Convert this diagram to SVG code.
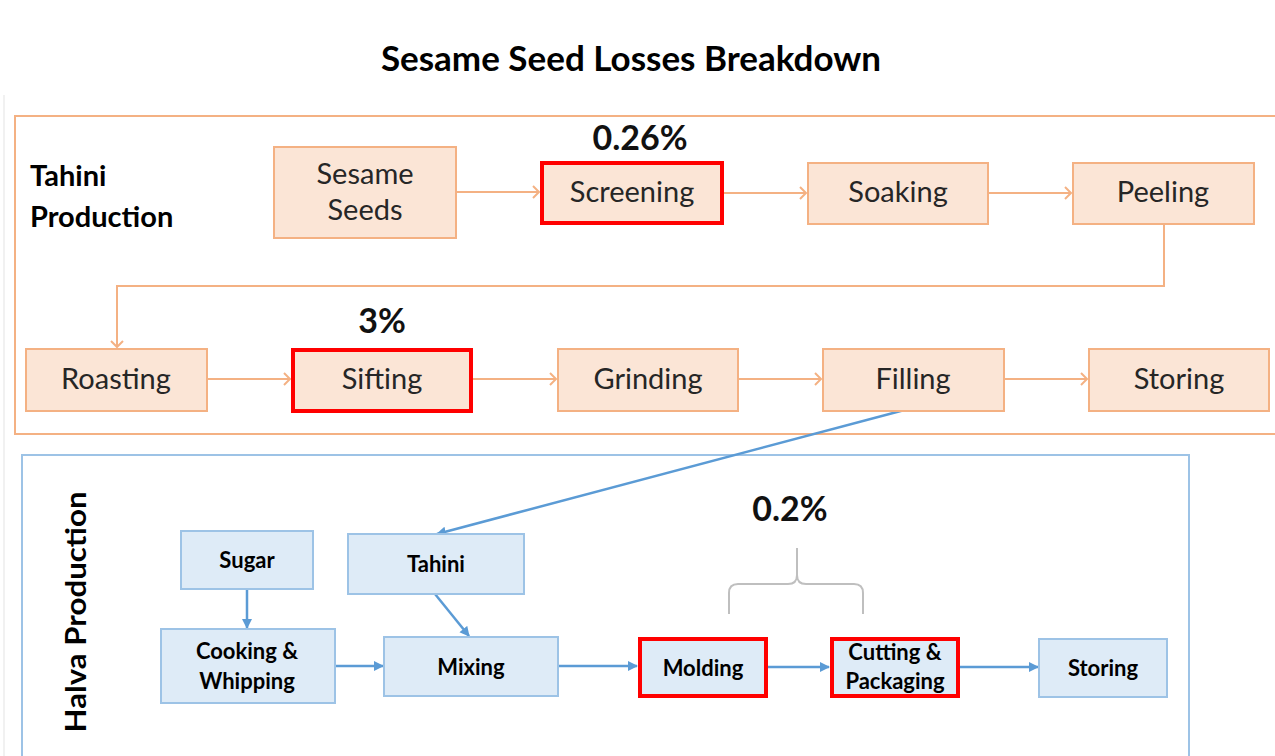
<svg xmlns="http://www.w3.org/2000/svg" width="1275" height="756" viewBox="0 0 1275 756">
  <style>
    .title { font: bold 35px Lato, "Liberation Sans", sans-serif; fill: #000; }
    .sect { font: bold 29px Lato, "Liberation Sans", sans-serif; fill: #000; }
    .pct { font: bold 34px Lato, "Liberation Sans", sans-serif; fill: #111; }
    .onode { fill: #FBE5D6; stroke: #F4B183; stroke-width: 2; }
    .bnode { fill: #DEEBF7; stroke: #9DC3E6; stroke-width: 2; }
    .loss { stroke: #FF0000; stroke-width: 4; }
    .otext { font: 29px Lato, "Liberation Sans", sans-serif; fill: #262626; text-anchor: middle; }
    .btext { font: bold 22px Lato, "Liberation Sans", sans-serif; fill: #000; text-anchor: middle; }
    .oarrow { fill: none; stroke: #F4B183; stroke-width: 2; marker-end: url(#chevO); }
    .barrow { fill: none; stroke: #5B9BD5; stroke-width: 2.5; marker-end: url(#triB); }
  </style>
  <defs>
    <marker id="chevO" markerUnits="userSpaceOnUse" markerWidth="12" markerHeight="14" refX="8" refY="7" orient="auto">
      <path d="M2,1 L8,7 L2,13" fill="none" stroke="#F4B183" stroke-width="2"/>
    </marker>
    <marker id="triB" markerUnits="userSpaceOnUse" markerWidth="12" markerHeight="12" refX="9" refY="6" orient="auto">
      <path d="M0,1 L10,6 L0,11 Z" fill="#5B9BD5"/>
    </marker>
  </defs>

  <rect width="1275" height="756" fill="#fff"/>
  <line x1="4" y1="95" x2="4" y2="756" stroke="#ececec" stroke-width="1.5"/>

  <text class="title" x="631" y="71" text-anchor="middle">Sesame Seed Losses Breakdown</text>

  <!-- section frames -->
  <rect id="tahini-frame" x="15" y="116" width="1275" height="318" fill="none" stroke="#F4B183" stroke-width="2"/>
  <rect id="halva-frame" x="22" y="455" width="1167" height="320" fill="none" stroke="#9DC3E6" stroke-width="2"/>

  <text class="sect" x="30" y="186">Tahini</text>
  <text class="sect" x="30" y="227">Production</text>
  <text class="sect" transform="translate(86,612) rotate(-90)" text-anchor="middle" font-size="30" textLength="241" lengthAdjust="spacingAndGlyphs">Halva Production</text>

  <!-- connectors -->
  <g id="connectors">
    <path class="oarrow" d="M456,192 H539"/>
    <path class="oarrow" d="M723,193 H806"/>
    <path class="oarrow" d="M988,193 H1071"/>
    <path class="oarrow" d="M1164,224 V286 H117 V347"/>
    <path class="oarrow" d="M207,379 H290"/>
    <path class="oarrow" d="M473,379 H556"/>
    <path class="oarrow" d="M738,379 H821"/>
    <path class="oarrow" d="M1004,379 H1087"/>
    <path class="barrow" d="M912,408 L437,534"/>
    <path class="barrow" d="M247,589 V628"/>
    <path class="barrow" d="M435,594 L469,636"/>
    <path class="barrow" d="M335,666 H383"/>
    <path class="barrow" d="M558,666 H637"/>
    <path class="barrow" d="M768,667 H829"/>
    <path class="barrow" d="M960,667 H1038"/>
  </g>

  <!-- tahini production steps -->
  <g id="sesame-seeds">
    <rect class="onode" x="274" y="147" width="182" height="91"/>
    <text class="otext" x="365" y="184">Sesame</text>
    <text class="otext" x="365" y="220">Seeds</text>
  </g>
  <g id="screening">
    <rect class="onode loss" x="542" y="163" width="180" height="60"/>
    <text class="otext" x="632" y="202">Screening</text>
    <text class="pct" x="640" y="150" text-anchor="middle">0.26%</text>
  </g>
  <g id="soaking">
    <rect class="onode" x="808" y="163" width="180" height="61"/>
    <text class="otext" x="898" y="202">Soaking</text>
  </g>
  <g id="peeling">
    <rect class="onode" x="1073" y="163" width="181" height="61"/>
    <text class="otext" x="1163" y="202">Peeling</text>
  </g>
  <g id="roasting">
    <rect class="onode" x="26" y="349" width="181" height="62"/>
    <text class="otext" x="116" y="389">Roasting</text>
  </g>
  <g id="sifting">
    <rect class="onode loss" x="293" y="350" width="178" height="61"/>
    <text class="otext" x="382" y="389">Sifting</text>
    <text class="pct" x="382" y="333" text-anchor="middle">3%</text>
  </g>
  <g id="grinding">
    <rect class="onode" x="558" y="349" width="180" height="62"/>
    <text class="otext" x="648" y="389">Grinding</text>
  </g>
  <g id="filling">
    <rect class="onode" x="823" y="349" width="181" height="62"/>
    <text class="otext" x="913" y="389">Filling</text>
  </g>
  <g id="storing-tahini">
    <rect class="onode" x="1089" y="349" width="180" height="62"/>
    <text class="otext" x="1179" y="389">Storing</text>
  </g>

  <!-- halva production steps -->
  <g id="sugar">
    <rect class="bnode" x="181" y="531" width="132" height="58"/>
    <text class="btext" x="247" y="568">Sugar</text>
  </g>
  <g id="tahini">
    <rect class="bnode" x="348" y="534" width="176" height="60"/>
    <text class="btext" x="436" y="572">Tahini</text>
  </g>
  <g id="cooking-whipping">
    <rect class="bnode" x="161" y="629" width="174" height="74"/>
    <text class="btext" x="247" y="659">Cooking &amp;</text>
    <text class="btext" x="247" y="689">Whipping</text>
  </g>
  <g id="mixing">
    <rect class="bnode" x="384" y="637" width="174" height="59"/>
    <text class="btext" x="471" y="675">Mixing</text>
  </g>
  <g id="molding">
    <rect class="bnode loss" x="640" y="639" width="126" height="57"/>
    <text class="btext" x="703" y="676">Molding</text>
  </g>
  <g id="cutting-packaging">
    <rect class="bnode loss" x="832" y="639" width="126" height="57"/>
    <text class="btext" x="895" y="660">Cutting &amp;</text>
    <text class="btext" x="895" y="689">Packaging</text>
  </g>
  <g id="storing-halva">
    <rect class="bnode" x="1039" y="639" width="128" height="58"/>
    <text class="btext" x="1103" y="676">Storing</text>
  </g>

  <!-- shared loss for molding and cutting -->
  <g id="brace-loss">
    <path d="M729,614 V593 Q729,584 738,584 H788 Q797,584 797,575 V548 M797,575 Q797,584 806,584 H854 Q863,584 863,593 V614" fill="none" stroke="#BFBFBF" stroke-width="2"/>
    <text class="pct" x="790" y="521" text-anchor="middle">0.2%</text>
  </g>
</svg>
